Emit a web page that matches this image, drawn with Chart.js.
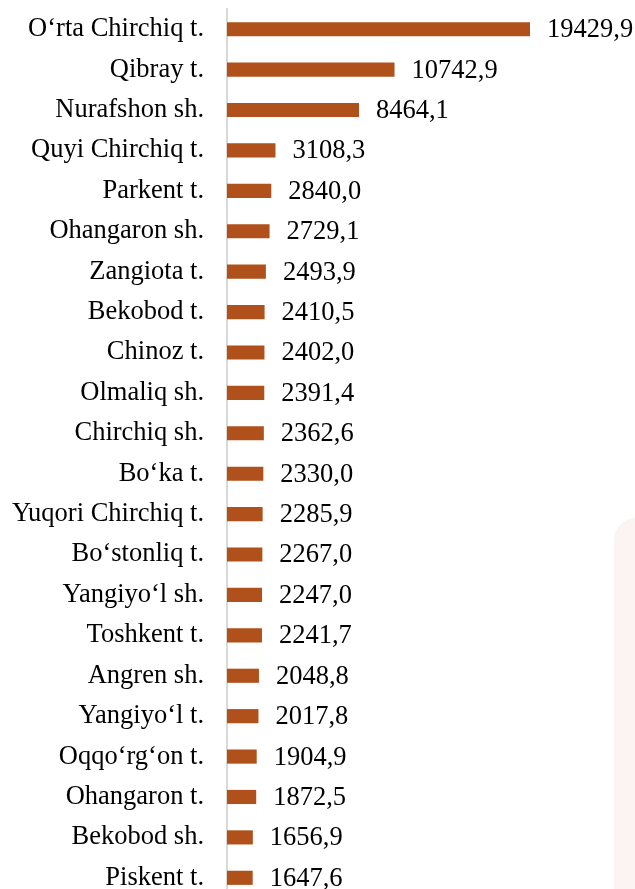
<!DOCTYPE html>
<html>
<head>
<meta charset="utf-8">
<script src="https://cdn.jsdelivr.net/npm/chart.js@4"></script>
<style>
  html, body { margin: 0; padding: 0; background: #fff; overflow: hidden; }
  #wrap { position: relative; width: 635px; height: 889px; overflow: hidden; }
  #deco { position: absolute; left: 614px; top: 518px; width: 40px; height: 400px;
          background: #fbf4f2; border-top-left-radius: 22px; }
  #box { position: absolute; left: 0; top: 0; width: 635px; height: 898px; }
</style>
</head>
<body>
<div id="wrap">
  <div id="deco"></div>
  <div id="box"><canvas id="barChart" width="635" height="898"></canvas></div>
</div>
<script>
const tumanlar = ["O‘rta Chirchiq t.", "Qibray t.", "Nurafshon sh.", "Quyi Chirchiq t.", "Parkent t.",
  "Ohangaron sh.", "Zangiota t.", "Bekobod t.", "Chinoz t.", "Olmaliq sh.", "Chirchiq sh.",
  "Bo‘ka t.", "Yuqori Chirchiq t.", "Bo‘stonliq t.", "Yangiyo‘l sh.", "Toshkent t.",
  "Angren sh.", "Yangiyo‘l t.", "Oqqo‘rg‘on t.", "Ohangaron t.", "Bekobod sh.", "Piskent t."];
const qiymatlar = [19429.9, 10742.9, 8464.1, 3108.3, 2840.0, 2729.1, 2493.9, 2410.5, 2402.0,
  2391.4, 2362.6, 2330.0, 2285.9, 2267.0, 2247.0, 2241.7, 2048.8, 2017.8, 1904.9, 1872.5,
  1656.9, 1647.6];

// qiymat yozuvlari - ustun oxiridan o'ngda
const valueLabels = {
    id: 'valueLabels',
    afterDatasetsDraw(chart) {
        const ctx = chart.ctx;
        const meta = chart.getDatasetMeta(0);
        ctx.save();
        ctx.font = '26.5px "Liberation Serif", "Times New Roman", serif';
        ctx.fillStyle = '#000';
        ctx.textAlign = 'left';
        ctx.textBaseline = 'middle';
        meta.data.forEach((bar, i) => {
            const txt = qiymatlar[i].toFixed(1).replace('.', ',');
            ctx.fillText(txt, bar.x + 17, bar.y + 1);
        });
        ctx.restore();
    }
};

const ctx = document.getElementById('barChart').getContext('2d');

new Chart(ctx, {
    type: 'bar',
    data: {
        labels: tumanlar,
        datasets: [{
            data: qiymatlar,
            backgroundColor: '#b0501a',
            barPercentage: 0.35,
            categoryPercentage: 1
        }]
    },
    options: {
        indexAxis: 'y',
        responsive: false,
        animation: false,
        layout: { padding: { top: 9, right: 0, bottom: 0, left: 0 } },
        plugins: {
            legend: { display: false },
            tooltip: { enabled: false }
        },
        scales: {
            x: {
                display: false,
                min: 0,
                max: 26163
            },
            y: {
                afterFit(scale) {
                    scale.width = 227;
                    scale.paddingTop = 0;
                    scale.paddingBottom = 0;
                },
                grid: { display: false },
                border: { display: true, color: '#d9d9d9', width: 2 },
                ticks: {
                    padding: 15,
                    color: '#000',
                    font: { family: '"Liberation Serif", "Times New Roman", serif', size: 26.5 }
                }
            }
        }
    },
    plugins: [valueLabels]
});
</script>
</body>
</html>
